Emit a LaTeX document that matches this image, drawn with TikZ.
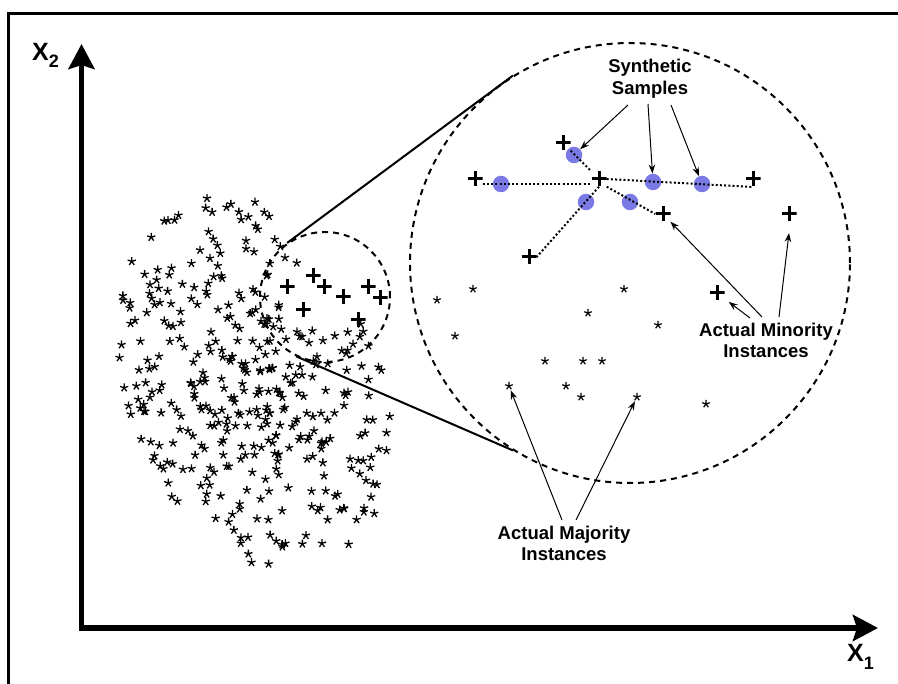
\documentclass[tikz,border=0pt]{standalone}
\usepackage{fontspec}
\setmainfont{Liberation Sans}
\usetikzlibrary{arrows.meta}

\definecolor{synth}{RGB}{122,122,230}

\tikzset{
  frameline/.style={line width=2.2pt},
  axisline/.style={line width=5.5pt, line join=miter,
    {Stealth[length=25pt,width=26pt,inset=4pt]}-{Stealth[length=25pt,width=26pt,inset=4pt]}},
  plusmark/.style={shape=rectangle, inner sep=0pt, minimum size=15pt,
    path picture={\draw[line width=3pt]
      (path picture bounding box.north) -- (path picture bounding box.south)
      (path picture bounding box.west) -- (path picture bounding box.east);}},
  starmark/.style={shape=circle, inner sep=0pt, minimum size=9pt,
    path picture={\draw[line width=1.2pt]
      \foreach \a in {90,162,234,306,18}{(path picture bounding box.center) -- ++(\a:4pt)};}},
  cloudstar/.pic={\draw[line width=1.3pt]
      \foreach \a in {90,162,234,306,18}{(0,0) -- (\a:4.3pt)};},
  synthdot/.style={shape=circle, fill=synth, inner sep=0pt, minimum size=16.5pt},
  zoomring/.style={shape=circle, draw, line width=2pt, dash pattern=on 6pt off 5pt, inner sep=0pt},
  tangent/.style={line width=2pt},
  dotline/.style={line width=2pt, dash pattern=on 2pt off 2.2pt},
  pointer/.style={line width=1pt, -{Stealth[length=9pt,width=6.5pt]}},
  lbl/.style={font=\bfseries\fontsize{18.5}{21.5}\selectfont, align=center, inner sep=0pt},
  axislbl/.style={font=\bfseries\fontsize{25}{25}\selectfont, inner sep=0pt, anchor=base west}
}

\begin{document}
\begin{tikzpicture}[x=1pt,y=-1pt]
\useasboundingbox (0,0) rectangle (898,684);
\fill[white] (0,0) rectangle (898,684);

% outer frame (top and left edges)
\draw[frameline] (8.5,684) -- (8.5,13.5) -- (898,13.5);

% axes
\draw[axisline] (81.5,44) -- (81.5,628) -- (878,628);
\node[axislbl] (xtwo) at (32,61) {X\raisebox{-7pt}{\fontsize{18}{18}\selectfont 2}};
\node[axislbl] (xone) at (847,662) {X\raisebox{-8pt}{\fontsize{18}{18}\selectfont 1}};

% scattered majority class
\pgfmathsetseed{20}
\foreach \i in {1,...,400}{
  \pgfmathsetmacro\ang{360*rnd}
  \pgfmathsetmacro\rad{pow(rnd+0.0001,0.62)}
  \pgfmathsetmacro\sx{\rad*cos(\ang)}
  \pgfmathsetmacro\sy{\rad*sin(\ang)}
  \pgfmathsetmacro\px{255+132*\sx+35*\sy}
  \pgfmathsetmacro\py{383+188*\sy}
  \pgfmathtruncatemacro\keep{and(((\px-333)/52)^2+((\py-288)/34)^2>1, or(\px<292,\py>258))}
  \ifnum\keep=1 \pic at (\px,\py) {cloudstar}; \fi
}

% minority cluster
\node[plusmark] (m1) at (287,287) {};
\node[plusmark] (m2) at (313,276) {};
\node[plusmark] (m3) at (324,287) {};
\node[plusmark] (m4) at (343,297) {};
\node[plusmark] (m5) at (368,287) {};
\node[plusmark] (m6) at (380,298) {};
\node[plusmark] (m7) at (303,310) {};
\node[plusmark] (m8) at (358,320) {};

% zoom rings and connecting lines
\node[zoomring, minimum size=130pt] (small) at (325,297) {};
\node[zoomring, minimum size=440pt] (big) at (630,263) {};
\draw[tangent] (small.125) -- (big.122);
\draw[tangent] (small.244) -- (big.238);

% magnified view: majority points
\node[starmark] (q1) at (473,289) {};
\node[starmark] (q2) at (437,300) {};
\node[starmark] (q3) at (624,289) {};
\node[starmark] (q4) at (588,313) {};
\node[starmark] (q5) at (658,325) {};
\node[starmark] (q6) at (455,336) {};
\node[starmark] (q7) at (545,361) {};
\node[starmark] (q8) at (583,361) {};
\node[starmark] (q9) at (602,361) {};
\node[starmark] (q10) at (509,386) {};
\node[starmark] (q11) at (566,386) {};
\node[starmark] (q12) at (581,397) {};
\node[starmark] (q13) at (637,397) {};
\node[starmark] (q14) at (706,404) {};

% magnified view: synthetic samples
\node[synthdot] (b1) at (574,155) {};
\node[synthdot] (b2) at (501,184) {};
\node[synthdot] (b3) at (653,182) {};
\node[synthdot] (b4) at (702,184) {};
\node[synthdot] (b5) at (586,202) {};
\node[synthdot] (b6) at (630,202) {};

% magnified view: minority points
\node[plusmark] (p1) at (563,143) {};
\node[plusmark] (p2) at (475,179) {};
\node[plusmark] (p3) at (599,179) {};
\node[plusmark] (p4) at (753,179) {};
\node[plusmark] (p5) at (663,214) {};
\node[plusmark] (p6) at (789,214) {};
\node[plusmark] (p7) at (529,257) {};
\node[plusmark] (p8) at (717,293) {};

% interpolation segments
\draw[dotline] (p1) -- (p3);
\draw[dotline] ([yshift=-5pt]p2.east) -- ([yshift=-5pt]p3.west);
\draw[dotline] (p3.east) -- ([yshift=-8pt]p4.center);
\draw[dotline] (p3.south) -- (p7.east);
\draw[dotline] (p3.south east) -- (p5.west);

% labels
\node[lbl, anchor=north] (ss) at (650,59) {Synthetic\\Samples};
\node[lbl, anchor=north] (mi) at (766,322.5) {Actual Minority\\Instances};
\node[lbl, anchor=north] (ma) at (564,525.5) {Actual Majority\\Instances};

% label pointers
\coordinate (s1) at (628,105);
\coordinate (s2) at (648,104);
\coordinate (s3) at (671,105);
\draw[pointer] (s1) -- (b1);
\draw[pointer] (s2) -- (b3);
\draw[pointer] (s3) -- (b4);

\coordinate (n1) at (750,318);
\coordinate (n2) at (762,317);
\coordinate (n3) at (779,317);
\draw[pointer, shorten >=5pt] (n1) -- (p8);
\draw[pointer] (n2) -- (p5);
\draw[pointer] (n3) -- ([yshift=-19pt]p6.center);

\coordinate (j1) at (562,520);
\coordinate (j2) at (576,520);
\draw[pointer] (j1) -- (q10);
\draw[pointer] (j2) -- (q13);
\end{tikzpicture}
\end{document}
